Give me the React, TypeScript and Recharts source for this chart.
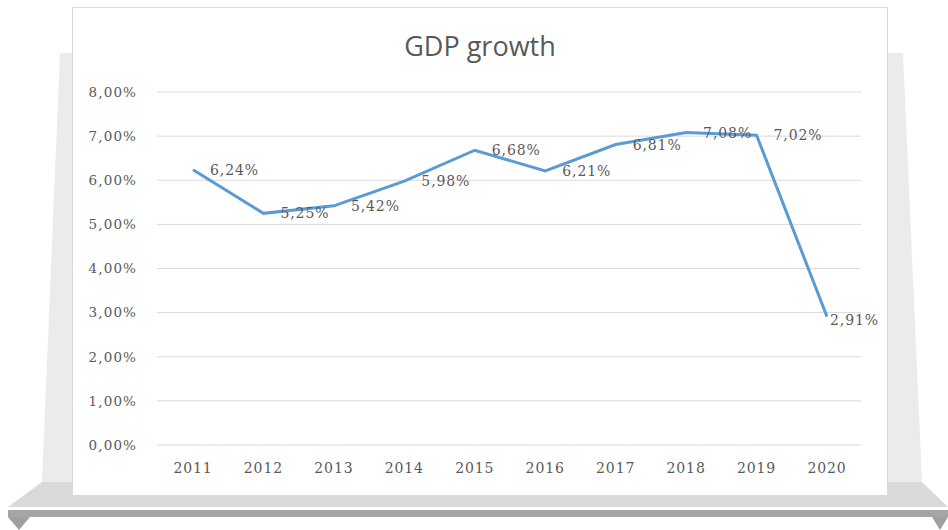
import React from "react";
import { LineChart, Line, XAxis, YAxis, CartesianGrid, LabelList } from "recharts";

const years = ["2011", "2012", "2013", "2014", "2015", "2016", "2017", "2018", "2019", "2020"];
const growth = [6.24, 5.25, 5.42, 5.98, 6.68, 6.21, 6.81, 7.08, 7.02, 2.91];
const yTicks = [0, 1, 2, 3, 4, 5, 6, 7, 8];
const title = "GDP growth";

const data = years.map((y, i) => ({ year: y, growth: growth[i] }));
const fmt = (v: number) => `${v.toFixed(2).replace(".", ",")}%`;

const SERIF = "'DejaVu Serif', serif";
const TEXT = "#595959";

const renderLabel = (props: any) => {
  const { x, y, value, index } = props;
  const last = index === growth.length - 1;
  return (
    <text x={x + (last ? 3 : 17)} y={y} dy={last ? 8 : 5} fill={TEXT} fontSize={14} fontFamily={SERIF} letterSpacing={0.9}>
      {fmt(value)}
    </text>
  );
};

export default function App() {
  return (
    <div style={{ position: "absolute", left: 0, top: 0, width: 948, height: 530, background: "#ffffff", overflow: "hidden" }}>
      <svg width={948} height={530} style={{ position: "absolute", left: 0, top: 0 }}>
        <polygon points="60,53 903,53 922,482 42,482" fill="#ebebeb" />
        <polygon points="42,482 922,482 948,507 8,507" fill="#d9d9d9" />
        <rect x={8} y={510} width={940} height={7} fill="#a5a5a5" />
        <polygon points="8,517 30,517 19,530" fill="#a0a0a0" />
        <polygon points="932,517 948,517 940,530" fill="#a0a0a0" />
        <rect x={72.5} y={7.5} width={815} height={488} fill="#ffffff" stroke="#d9d9d9" />
        <text x={480} y={56} textAnchor="middle" fontSize={27} fill={TEXT} fontFamily="'Open Sans', 'Liberation Sans', sans-serif">
          {title}
        </text>
      </svg>
      <div style={{ position: "absolute", left: 0, top: 0 }}>
        <LineChart width={948} height={530} data={data} margin={{ top: 92, right: 87, bottom: 55, left: 97 }}>
          <CartesianGrid vertical={false} stroke="#d9d9d9" strokeWidth={1} />
          <XAxis
            dataKey="year"
            axisLine={false}
            tickLine={false}
            tickSize={0}
            tickMargin={18}
            height={30}
            padding={{ left: 36, right: 34 }}
            tick={{ fill: TEXT, fontSize: 14, fontFamily: SERIF, letterSpacing: 0.9 }}
            interval={0}
          />
          <YAxis
            domain={[0, 8]}
            ticks={yTicks}
            tickFormatter={fmt}
            axisLine={false}
            tickLine={false}
            tickSize={0}
            tickMargin={20}
            width={60}
            tick={{ fill: TEXT, fontSize: 13.5, fontFamily: SERIF, letterSpacing: 1.1 }}
          />
          <Line
            type="linear"
            dataKey="growth"
            stroke="#5b9bd5"
            strokeWidth={3}
            dot={false}
            activeDot={false}
            isAnimationActive={false}
          >
            <LabelList dataKey="growth" content={renderLabel} />
          </Line>
        </LineChart>
      </div>
    </div>
  );
}
